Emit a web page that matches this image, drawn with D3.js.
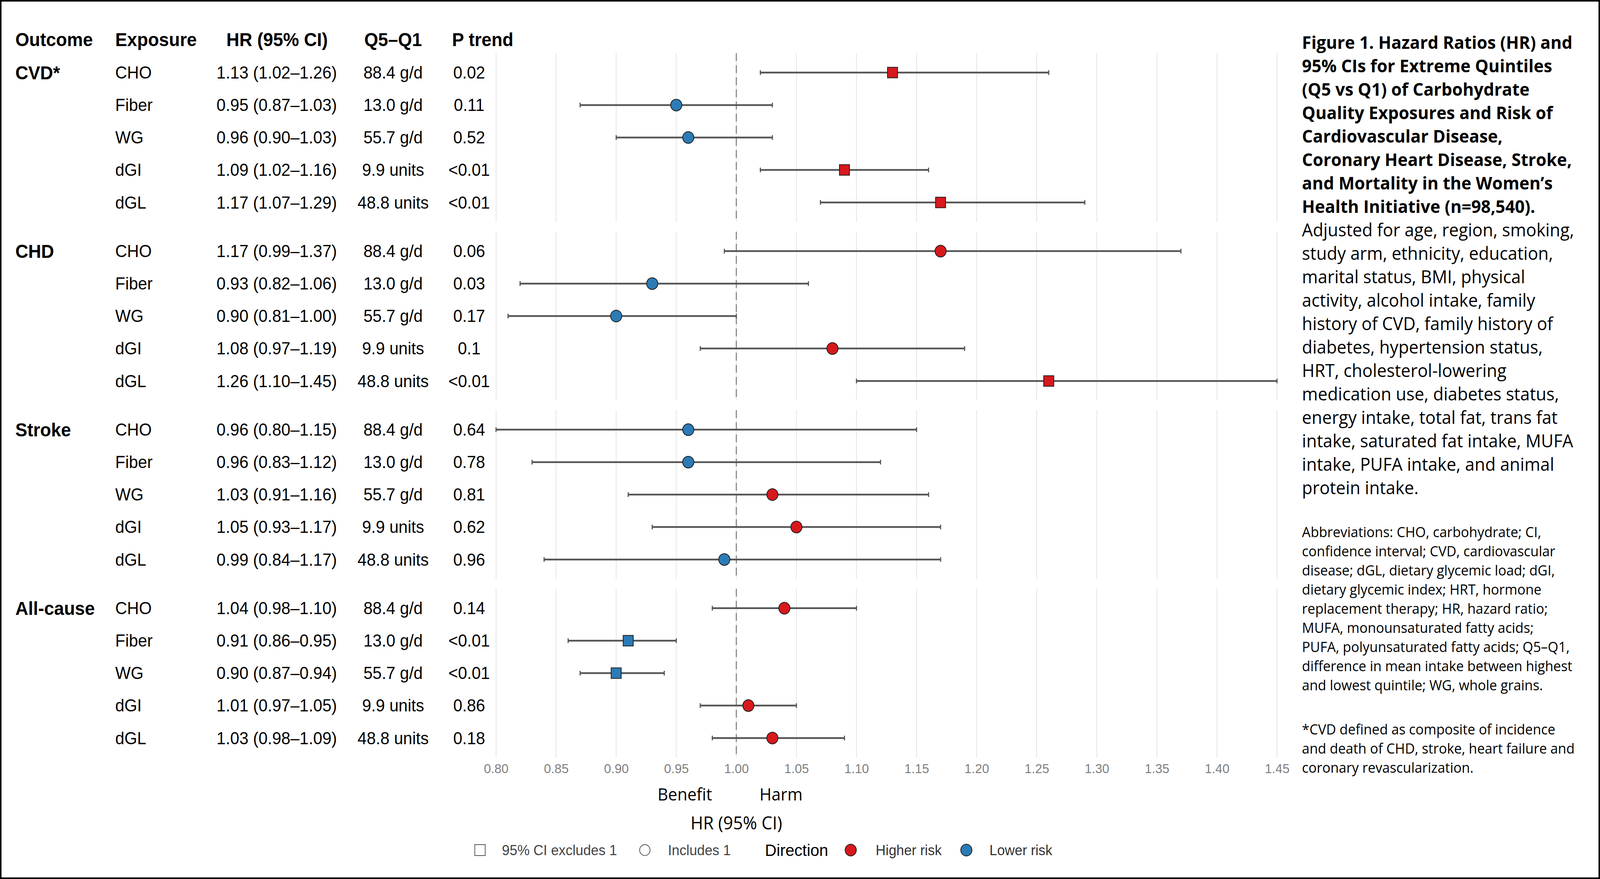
<!DOCTYPE html>
<head>
  <meta charset='utf-8'>
  <title>Carbohydrate quality forest plot</title>
  <script src="https://cdn.jsdelivr.net/npm/d3@7"></script>
  <style>
    html, body { margin: 0; padding: 0; background: #fff; overflow: hidden; }
    #chart svg { display: block; width: 100vw; height: 100vh; }
    svg text { font-family: "Liberation Sans", Arial, Helvetica, sans-serif; }
    .note { font-family: "Open Sans", "Noto Sans", sans-serif !important; }
  </style>
</head>

<body>
  <div id="chart"></div>
  <script type="text/javascript">
    // ---- data ----
    var outcomes = ["CVD*", "CHD", "Stroke", "All-cause"];
    var exposures = ["CHO", "Fiber", "WG", "dGI", "dGL"];

    var hr = [
      [1.13, 0.95, 0.96, 1.09, 1.17],
      [1.17, 0.93, 0.90, 1.08, 1.26],
      [0.96, 0.96, 1.03, 1.05, 0.99],
      [1.04, 0.91, 0.90, 1.01, 1.03]
    ];
    var lower = [
      [1.02, 0.87, 0.90, 1.02, 1.07],
      [0.99, 0.82, 0.81, 0.97, 1.10],
      [0.80, 0.83, 0.91, 0.93, 0.84],
      [0.98, 0.86, 0.87, 0.97, 0.98]
    ];
    var upper = [
      [1.26, 1.03, 1.03, 1.16, 1.29],
      [1.37, 1.06, 1.00, 1.19, 1.45],
      [1.15, 1.12, 1.16, 1.17, 1.17],
      [1.10, 0.95, 0.94, 1.05, 1.09]
    ];
    var pTrend = [
      ["0.02", "0.11", "0.52", "<0.01", "<0.01"],
      ["0.06", "0.03", "0.17", "0.1", "<0.01"],
      ["0.64", "0.78", "0.81", "0.62", "0.96"],
      ["0.14", "<0.01", "<0.01", "0.86", "0.18"]
    ];
    var q5q1Values = [88.4, 13.0, 55.7, 9.9, 48.8];
    var q5q1Units = ["g/d", "g/d", "g/d", "units", "units"];

    var xTicks = [0.80, 0.85, 0.90, 0.95, 1.00, 1.05, 1.10, 1.15, 1.20, 1.25, 1.30, 1.35, 1.40, 1.45];

    var titleLines = [
      "Figure 1. Hazard Ratios (HR) and",
      "95% CIs for Extreme Quintiles",
      "(Q5 vs Q1) of Carbohydrate",
      "Quality Exposures and Risk of",
      "Cardiovascular Disease,",
      "Coronary Heart Disease, Stroke,",
      "and Mortality in the Women\u2019s",
      "Health Initiative (n=98,540)."
    ];
    var adjustLines = [
      "Adjusted for age, region, smoking,",
      "study arm, ethnicity, education,",
      "marital status, BMI, physical",
      "activity, alcohol intake, family",
      "history of CVD, family history of",
      "diabetes, hypertension status,",
      "HRT, cholesterol-lowering",
      "medication use, diabetes status,",
      "energy intake, total fat, trans fat",
      "intake, saturated fat intake, MUFA",
      "intake, PUFA intake, and animal",
      "protein intake."
    ];
    var abbrevLines = [
      "Abbreviations: CHO, carbohydrate; CI,",
      "confidence interval; CVD, cardiovascular",
      "disease; dGL, dietary glycemic load; dGI,",
      "dietary glycemic index; HRT, hormone",
      "replacement therapy; HR, hazard ratio;",
      "MUFA, monounsaturated fatty acids;",
      "PUFA, polyunsaturated fatty acids; Q5\u2013Q1,",
      "difference in mean intake between highest",
      "and lowest quintile; WG, whole grains."
    ];
    var footLines = [
      "*CVD defined as composite of incidence",
      "and death of CHD, stroke, heart failure and",
      "coronary revascularization."
    ];

    // ---- layout ----
    var width = 4290,
        height = 2250;
    var red = "#d7191c", blue = "#2c7bb6";
    var panelTop = 136, panelPitch = 457, panelH = 432;
    var f2 = d3.format(".2f");

    // the drawing is laid out in 4290x2250 units and stretched to whatever the window is
    var svg = d3.select("#chart").append("svg")
        .attr("viewBox", "0 0 " + width + " " + height)
        .attr("preserveAspectRatio", "none");

    svg.append("rect")
        .attr("x", 2).attr("y", 2)
        .attr("width", width - 4).attr("height", height - 4)
        .style("fill", "#fff")
        .style("stroke", "#000")
        .style("stroke-width", 4);

    var x = d3.scaleLinear().domain([0.80, 1.45]).range([1330, 3424]);

    // table header
    var header = svg.append("g").style("font-weight", "bold").style("font-size", "48px");
    header.append("text").attr("x", 41).attr("y", 101).attr("dy", "0.35em").text("Outcome");
    header.append("text").attr("x", 309).attr("y", 101).attr("dy", "0.35em").text("Exposure");
    header.append("text").attr("x", 743).attr("y", 101).attr("dy", "0.35em").attr("text-anchor", "middle").text("HR (95% CI)");
    header.append("text").attr("x", 1054).attr("y", 101).attr("dy", "0.35em").attr("text-anchor", "middle").text("Q5\u2013Q1");
    header.append("text").attr("x", 1212).attr("y", 101).attr("dy", "0.35em").text("P trend");

    outcomes.forEach(function(outcome, i) {
      var top = panelTop + i * panelPitch;
      var y = d3.scalePoint().domain(exposures).range([top, top + panelH]).padding(0.6);

      var rows = exposures.map(function(e, j) {
        return { exposure: e, hr: hr[i][j], lo: lower[i][j], hi: upper[i][j], p: pTrend[i][j], j: j };
      });

      var panel = svg.append("g").attr("class", "panel");

      panel.selectAll(".grid")
          .data(xTicks)
        .enter().append("line")
          .attr("class", "grid")
          .attr("x1", function(d) { return x(d); })
          .attr("x2", function(d) { return x(d); })
          .attr("y1", top)
          .attr("y2", top + panelH)
          .style("stroke", "#e4e4e4")
          .style("stroke-width", 2);

      panel.append("line")
          .attr("x1", x(1)).attr("x2", x(1))
          .attr("y1", top).attr("y2", top + panelH)
          .style("stroke", "#858585")
          .style("stroke-width", 3)
          .style("stroke-dasharray", "20,11");

      panel.selectAll(".ci")
          .data(rows)
        .enter().append("line")
          .attr("class", "ci")
          .attr("x1", function(d) { return x(d.lo); })
          .attr("x2", function(d) { return x(d.hi); })
          .attr("y1", function(d) { return y(d.exposure); })
          .attr("y2", function(d) { return y(d.exposure); })
          .style("stroke", "#555")
          .style("stroke-width", 4.5);

      ["lo", "hi"].forEach(function(k) {
        panel.selectAll(".cap-" + k)
            .data(rows)
          .enter().append("line")
            .attr("class", "cap-" + k)
            .attr("x1", function(d) { return x(d[k]); })
            .attr("x2", function(d) { return x(d[k]); })
            .attr("y1", function(d) { return y(d.exposure) - 6; })
            .attr("y2", function(d) { return y(d.exposure) + 6; })
            .style("stroke", "#555")
            .style("stroke-width", 3);
      });

      panel.selectAll(".marker")
          .data(rows)
        .enter().append("path")
          .attr("class", "marker")
          .attr("transform", function(d) { return "translate(" + x(d.hr) + "," + y(d.exposure) + ")"; })
          .attr("d", function(d) {
            var excl = d.lo > 1 || d.hi < 1;
            return excl ? d3.symbol(d3.symbolSquare, 27 * 27)() : d3.symbol(d3.symbolCircle, Math.PI * 15 * 15)();
          })
          .style("fill", function(d) { return d.hr > 1 ? red : blue; })
          .style("stroke", "#1c1c1c")
          .style("stroke-width", 2);

      // table rows
      var table = svg.append("g").style("font-size", "44px");
      table.append("text")
          .attr("x", 41).attr("y", y(exposures[0])).attr("dy", "0.35em")
          .style("font-weight", "bold").style("font-size", "48px")
          .text(outcome);
      var tr = table.selectAll(".row")
          .data(rows)
        .enter().append("g")
          .attr("class", "row")
          .attr("transform", function(d) { return "translate(0," + y(d.exposure) + ")"; });
      tr.append("text").attr("x", 309).attr("dy", "0.35em").text(function(d) { return d.exposure; });
      tr.append("text").attr("x", 742).attr("dy", "0.35em").attr("text-anchor", "middle")
          .text(function(d) { return f2(d.hr) + " (" + f2(d.lo) + "\u2013" + f2(d.hi) + ")"; });
      tr.append("text").attr("x", 1054).attr("dy", "0.35em").attr("text-anchor", "middle")
          .text(function(d) { return d3.format(".1f")(q5q1Values[d.j]) + " " + q5q1Units[d.j]; });
      tr.append("text").attr("x", 1258).attr("dy", "0.35em").attr("text-anchor", "middle")
          .text(function(d) { return d.p; });
    });

    // x axis
    var axisY = panelTop + 3 * panelPitch + panelH;
    var axis = svg.append("g")
        .attr("transform", "translate(0," + axisY + ")")
        .call(d3.axisBottom(x).tickValues(xTicks).tickFormat(f2).tickSize(0).tickPadding(16));
    axis.select(".domain").remove();
    axis.selectAll("text")
        .style("font-family", "'Liberation Sans', Arial, sans-serif")
        .style("font-size", "34px")
        .style("fill", "#808080");

    svg.append("text").attr("class", "note")
        .attr("x", x(1) - 65).attr("y", 2034).attr("dy", "0.35em")
        .attr("text-anchor", "end").style("font-size", "44px")
        .text("Benefit");
    svg.append("text").attr("class", "note")
        .attr("x", x(1) + 62).attr("y", 2034).attr("dy", "0.35em")
        .style("font-size", "44px")
        .text("Harm");
    svg.append("text").attr("class", "note")
        .attr("x", x(1)).attr("y", 2107).attr("dy", "0.35em")
        .attr("text-anchor", "middle").style("font-size", "46px")
        .text("HR (95% CI)");

    // legend
    var ly = 2176;
    var legend = svg.append("g").style("font-size", "37px");
    legend.append("rect")
        .attr("x", 1273).attr("y", ly - 14).attr("width", 28).attr("height", 28)
        .style("fill", "none").style("stroke", "#555").style("stroke-width", 2);
    legend.append("text").attr("x", 1346).attr("y", ly).attr("dy", "0.35em")
        .style("fill", "#444").text("95% CI excludes 1");
    legend.append("circle")
        .attr("cx", 1729).attr("cy", ly).attr("r", 14)
        .style("fill", "none").style("stroke", "#555").style("stroke-width", 2);
    legend.append("text").attr("x", 1791).attr("y", ly).attr("dy", "0.35em")
        .style("fill", "#444").text("Includes 1");
    legend.append("text").attr("x", 2051).attr("y", ly).attr("dy", "0.35em")
        .style("font-size", "43px").text("Direction");
    legend.append("circle")
        .attr("cx", 2281).attr("cy", ly).attr("r", 15)
        .style("fill", red).style("stroke", "#1c1c1c").style("stroke-width", 2);
    legend.append("text").attr("x", 2348).attr("y", ly).attr("dy", "0.35em")
        .style("fill", "#333").text("Higher risk");
    legend.append("circle")
        .attr("cx", 2591).attr("cy", ly).attr("r", 15)
        .style("fill", blue).style("stroke", "#1c1c1c").style("stroke-width", 2);
    legend.append("text").attr("x", 2653).attr("y", ly).attr("dy", "0.35em")
        .style("fill", "#333").text("Lower risk");

    // caption block on the right
    var cap = svg.append("g").attr("class", "caption");
    function block(lines, y0, step, size, bold) {
      cap.selectAll(null)
          .data(lines)
        .enter().append("text")
          .attr("class", "note")
          .attr("x", 3491)
          .attr("y", function(d, k) { return y0 + k * step; })
          .attr("dy", "0.35em")
          .style("font-size", size + "px")
          .style("font-weight", bold ? "bold" : "normal")
          .text(function(d) { return d; });
    }
    block(titleLines, 109, 60, 45.5, true);
    block(adjustLines, 589, 60, 46, false);
    block(abbrevLines, 1362, 49, 36.5, false);
    block(footLines, 1867, 49, 36.5, false);
  </script>
</body>
